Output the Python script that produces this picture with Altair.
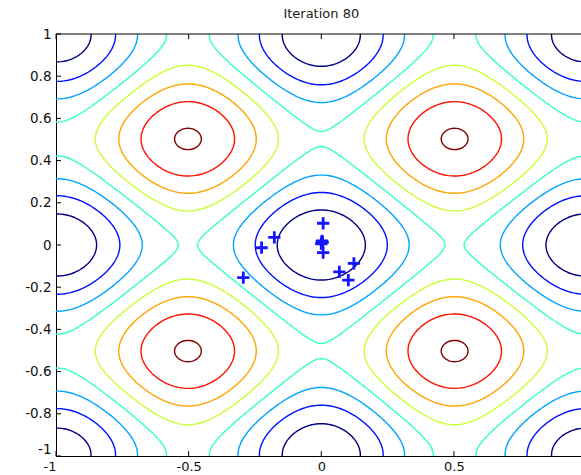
import numpy as np
import pandas as pd
import altair as alt

# ---------------- data ----------------
TITLE = "Iteration 80"
LEVELS = [5, 10, 15, 20, 25, 30, 35, 40]
LEVEL_COLORS = ["#000080", "#0012ff", "#00a4ff", "#36ffc8",
                "#c8ff36", "#ffa400", "#ff1200", "#800000"]
# particle positions
PARTICLE_X = [0.007, 0.003, 0.0, 0.005, 0.007, 0.002, -0.177, -0.225, -0.294, 0.123, 0.068, 0.102]
PARTICLE_Y = [0.103, 0.020, 0.006, 0.012, -0.036, 0.015, 0.036, -0.013, -0.155, -0.087, -0.127, -0.166]
X_TICKS = [-1, -0.5, 0, 0.5, 1]
Y_TICKS = [-1, -0.8, -0.6, -0.4, -0.2, 0, 0.2, 0.4, 0.6, 0.8, 1]
X_DOMAIN = [-1, 0.979]   # the right edge of the original figure is cropped
Y_DOMAIN = [-1, 1]

# objective function whose contours are drawn (Rastrigin, 2-D)
GRID = np.linspace(-1, 1, 201)
XX, YY = np.meshgrid(GRID, GRID)
Z = 20 + XX**2 + YY**2 - 10 * np.cos(2 * np.pi * XX) - 10 * np.cos(2 * np.pi * YY)


def trace(level):
    xs = ys = GRID
    above = Z > level
    pts, adj = {}, {}

    def pt(key):
        if key in pts:
            return pts[key]
        kind, j, i = key
        if kind == "h":
            z0, z1 = Z[j, i], Z[j, i + 1]
            t = (level - z0) / (z1 - z0)
            p = (xs[i] + t * (xs[i + 1] - xs[i]), ys[j])
        else:
            z0, z1 = Z[j, i], Z[j + 1, i]
            t = (level - z0) / (z1 - z0)
            p = (xs[i], ys[j] + t * (ys[j + 1] - ys[j]))
        pts[key] = p
        return p

    def link(a, b):
        adj.setdefault(a, []).append(b)
        adj.setdefault(b, []).append(a)

    a = above[:-1, :-1]; b = above[:-1, 1:]; c = above[1:, 1:]; d = above[1:, :-1]
    mixed = ~((a == b) & (b == c) & (c == d))
    for j, i in np.argwhere(mixed):
        A, B, C, D = above[j, i], above[j, i + 1], above[j + 1, i + 1], above[j + 1, i]
        bottom = ("h", j, i); right = ("v", j, i + 1)
        top = ("h", j + 1, i); left = ("v", j, i)
        es = []
        if A != B: es.append(bottom)
        if B != C: es.append(right)
        if C != D: es.append(top)
        if D != A: es.append(left)
        if len(es) == 2:
            link(*es)
        else:
            center = (Z[j, i] + Z[j, i + 1] + Z[j + 1, i + 1] + Z[j + 1, i]) / 4 > level
            if center == A:
                link(bottom, right); link(top, left)
            else:
                link(left, bottom); link(right, top)

    visited, paths = set(), []
    starts = [k for k, v in adj.items() if len(v) == 1] + list(adj.keys())
    for s in starts:
        if s in visited:
            continue
        path = [s]; visited.add(s); cur = s
        while True:
            nxt = [n for n in adj[cur] if n not in visited]
            if not nxt:
                if len(path) > 2 and s in adj[cur]:
                    path.append(s)
                break
            cur = nxt[0]; visited.add(cur); path.append(cur)
        paths.append([pt(k) for k in path])
    return paths


rows = []
pid = 0
for lvl in LEVELS:
    for path in trace(lvl):
        for k, (px, py) in enumerate(path):
            rows.append((lvl, pid, k, round(float(px), 4), round(float(py), 4)))
        pid += 1
contours = pd.DataFrame(rows, columns=["lvl", "pid", "ord", "x", "y"])
particles = pd.DataFrame({"x": PARTICLE_X, "y": PARTICLE_Y})
xt = pd.DataFrame({"x": [v for v in X_TICKS if X_DOMAIN[0] <= v <= X_DOMAIN[1]]})
yt = pd.DataFrame({"y": Y_TICKS})
title_df = pd.DataFrame({"x": [0], "t": [TITLE]})

# ---------------- chart ----------------
W, H = 525, 422
FONT = "DejaVu Sans"
xscale = alt.Scale(domain=X_DOMAIN, nice=False, zero=False)
yscale = alt.Scale(domain=Y_DOMAIN, nice=False, zero=False)
LABEL_EXPR = "replace(format(datum.value, '~g'), '\u2212', '-')"

x_axis = alt.Axis(values=X_TICKS, ticks=False, grid=False, title=None,
                  domainColor="black", domainWidth=1, labelFont=FONT, labelFontSize=13,
                  labelColor="#111111", labelPadding=4, labelFlush=False,
                  labelExpr=LABEL_EXPR,
                  labelAlign={"condition": {"test": "datum.value == -1", "value": "right"},
                              "value": "center"})
y_axis = alt.Axis(values=Y_TICKS, ticks=False, grid=False, title=None,
                  domainColor="black", domainWidth=1, labelFont=FONT, labelFontSize=13.5,
                  labelColor="#111111", labelPadding=5, labelFlush=False,
                  labelExpr=LABEL_EXPR,
                  labelBaseline={"condition": {"test": "datum.value == -1", "value": "bottom"},
                                 "value": "middle"})

X = alt.X("x:Q", scale=xscale, axis=x_axis)
Y = alt.Y("y:Q", scale=yscale, axis=y_axis)

lines = alt.Chart(contours).mark_line(strokeWidth=1.4, clip=True).encode(
    x=X, y=Y,
    color=alt.Color("lvl:N", scale=alt.Scale(domain=LEVELS, range=LEVEL_COLORS), legend=None),
    detail="pid:N",
    order="ord:Q",
)

pts_layer = alt.Chart(particles).mark_point(
    shape="M-1,0L1,0M0,-1L0,1", size=150, filled=False,
    stroke="#1414ff", strokeWidth=2.8, opacity=1,
).encode(x=X, y=Y)

tick_bottom = alt.Chart(xt).mark_rule(color="black", strokeWidth=1).encode(
    x=X, y=alt.value(H), y2=alt.value(H - 5))
tick_top = alt.Chart(xt).mark_rule(color="black", strokeWidth=1).encode(
    x=X, y=alt.value(0), y2=alt.value(5))
tick_left = alt.Chart(yt).mark_rule(color="black", strokeWidth=1).encode(
    y=Y, x=alt.value(0), x2=alt.value(5))
top_border = alt.Chart(title_df).mark_rule(color="black", strokeWidth=1).encode(
    x=alt.value(0), x2=alt.value(W), y=alt.value(0))

title_layer = alt.Chart(title_df).mark_text(
    font=FONT, fontSize=13, color="#1a1a1a", align="center", baseline="middle"
).encode(x=X, y=alt.value(-20), text="t:N")

chart = alt.layer(
    lines, pts_layer, tick_bottom, tick_top, tick_left, top_border, title_layer
).properties(
    width=W, height=H,
    padding={"left": 56, "top": 34, "right": 0, "bottom": 19},
    autosize=alt.AutoSizeParams(type="none"),
    background="white",
).configure_view(stroke=None)

chart.save("out.html", embed_options={"renderer": "svg", "actions": False})
